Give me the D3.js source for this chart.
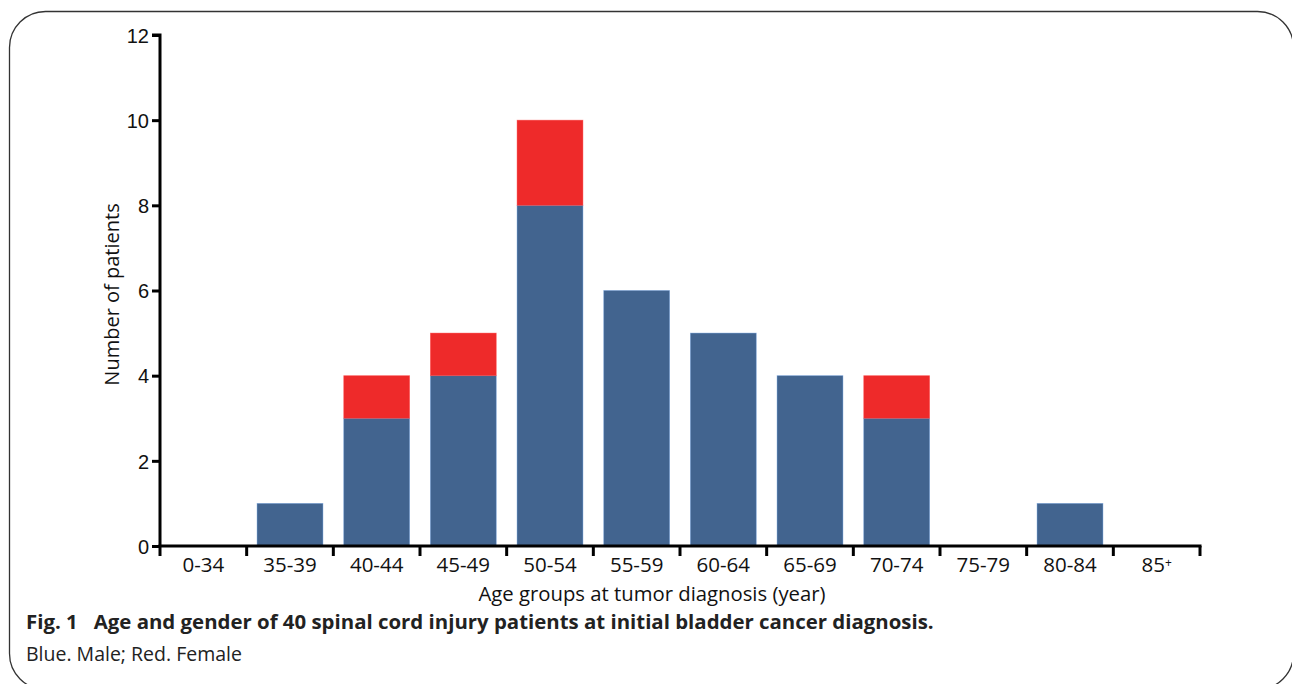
<!DOCTYPE html>
<html>
<head>
<meta charset="utf-8">
<script src="https://cdn.jsdelivr.net/npm/d3@7"></script>
<style>
  html, body { margin: 0; padding: 0; background: #fff; }
  svg { display: block; font-family: "Open Sans", "Noto Sans", sans-serif; }
</style>
</head>
<body>
<svg id="chart" width="1292" height="684"></svg>
<script>
const categories = ["0-34","35-39","40-44","45-49","50-54","55-59","60-64","65-69","70-74","75-79","80-84","85+"];
const male   = [0, 1, 3, 4, 8, 6, 5, 4, 3, 0, 1, 0];
const female = [0, 0, 1, 1, 2, 0, 0, 0, 1, 0, 0, 0];
const yTicks = [0, 2, 4, 6, 8, 10, 12];
const seriesNames = ["male", "female"];
const seriesColors = ["#42648f", "#ee2a2a"];

const svg = d3.select("#chart");

// Frame
svg.append("rect")
  .attr("x", 9.5).attr("y", 11.5)
  .attr("width", 1284).attr("height", 678)
  .attr("rx", 36).attr("ry", 36)
  .attr("fill", "none").attr("stroke", "#333").attr("stroke-width", 1.3);

const x0 = 160, x1 = 1200, yTop = 35, yBot = 546;
const x = d3.scaleBand().domain(categories).range([x0, x1]).paddingInner(0.24).paddingOuter(0.12);
const xb = d3.scaleBand().domain(categories).range([x0, x1]).padding(0);
const y = d3.scaleLinear().domain([0, 12]).range([yBot, yTop]);

const table = categories.map((c, i) => ({ cat: c, male: male[i], female: female[i] }));
const stacked = d3.stack().keys(seriesNames)(table);

const g = svg.append("g");
stacked.forEach((layer, li) => {
  g.append("g").selectAll("rect").data(layer).join("rect")
    .attr("x", d => x(d.data.cat))
    .attr("width", x.bandwidth())
    .attr("y", d => y(d[1]))
    .attr("height", d => y(d[0]) - y(d[1]))
    .attr("fill", seriesColors[li])
    .attr("stroke", d3.color(seriesColors[li]).brighter(1.2))
    .attr("stroke-opacity", 0.5)
    .attr("stroke-width", 0.8)
    .style("display", d => (d[1] - d[0]) > 0 ? null : "none");
});

// Y axis
const yAxis = d3.axisLeft(y).tickValues(yTicks).tickSize(8).tickPadding(3).tickFormat(d3.format("d"));
const ya = svg.append("g").attr("transform", `translate(${x0},0)`).call(yAxis);
ya.select(".domain").attr("stroke", "#000").attr("stroke-width", 3).attr("d", `M-8,${yTop}H0V${yBot}`);
ya.selectAll(".tick line").attr("stroke", "#000").attr("stroke-width", 3);
ya.selectAll(".tick text").attr("fill", "#111").style("font-size", "20px").attr("dy", "0.36em");

// X axis with ticks at group boundaries
const xa = svg.append("g").attr("transform", `translate(0,${yBot})`);
xa.append("path").attr("d", `M${x0 - 1.5},0H${x1 + 1.5}`).attr("stroke", "#000").attr("stroke-width", 3).attr("fill", "none");
const boundaries = categories.map(c => xb(c)).concat([x1]);
xa.selectAll("line.b").data(boundaries).join("line")
  .attr("x1", d => d).attr("x2", d => d).attr("y1", 0).attr("y2", 10)
  .attr("stroke", "#000").attr("stroke-width", 3);
const lbl = xa.selectAll("text.lab").data(categories).join("text")
  .attr("class", "lab")
  .attr("x", d => xb(d) + xb.bandwidth() / 2)
  .attr("y", 26)
  .attr("text-anchor", "middle")
  .attr("fill", "#111")
  .style("font-size", "20.5px");
lbl.each(function(d) {
  const t = d3.select(this);
  if (d.endsWith("+")) {
    t.append("tspan").text(d.slice(0, -1));
    t.append("tspan").text("+").attr("dy", "-0.45em").style("font-size", "12px");
  } else {
    t.text(d);
  }
});

// Axis titles
svg.append("text")
  .attr("x", 652).attr("y", 601)
  .attr("text-anchor", "middle").attr("fill", "#111")
  .style("font-size", "20.3px")
  .text("Age groups at tumor diagnosis (year)");
svg.append("text")
  .attr("transform", `translate(119,${(yTop + yBot) / 2 + 4}) rotate(-90)`)
  .attr("text-anchor", "middle").attr("fill", "#111")
  .style("font-size", "20px")
  .text("Number of patients");

// Caption
const cap = svg.append("text").attr("x", 26).attr("y", 629).attr("fill", "#222")
  .style("font-size", "20.4px").style("font-weight", "bold");
cap.append("tspan").text("Fig. 1");
cap.append("tspan").attr("dx", 16).text("Age and gender of 40 spinal cord injury patients at initial bladder cancer diagnosis.");
svg.append("text").attr("x", 26).attr("y", 661).attr("fill", "#222")
  .style("font-size", "19.5px")
  .text("Blue. Male; Red. Female");
</script>
</body>
</html>
